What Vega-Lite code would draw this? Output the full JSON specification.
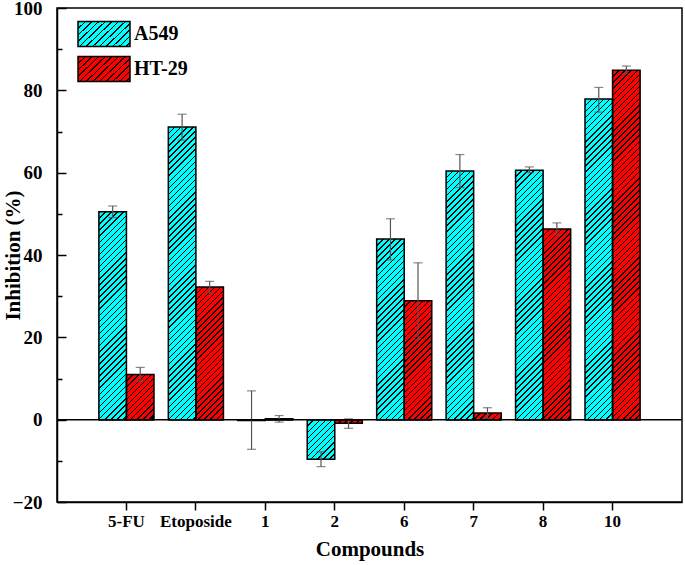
{
  "$schema": "https://vega.github.io/schema/vega-lite/v6.json",
  "width": 625,
  "height": 494,
  "autosize": {"type": "none"},
  "padding": {"left": 57, "top": 8, "right": 3, "bottom": 63},
  "background": "white",
  "params": [
    {
      "name": "hatchC",
      "value": [
        {"offset": 0, "color": "black"}, {"offset": 0.00390625, "color": "black"}, {"offset": 0.00390625, "color": "#00FFFF"}, {"offset": 0.015625, "color": "#00FFFF"},
        {"offset": 0.015625, "color": "black"}, {"offset": 0.01953125, "color": "black"}, {"offset": 0.01953125, "color": "#00FFFF"}, {"offset": 0.03125, "color": "#00FFFF"},
        {"offset": 0.03125, "color": "black"}, {"offset": 0.03515625, "color": "black"}, {"offset": 0.03515625, "color": "#00FFFF"}, {"offset": 0.046875, "color": "#00FFFF"},
        {"offset": 0.046875, "color": "black"}, {"offset": 0.05078125, "color": "black"}, {"offset": 0.05078125, "color": "#00FFFF"}, {"offset": 0.0625, "color": "#00FFFF"},
        {"offset": 0.0625, "color": "black"}, {"offset": 0.06640625, "color": "black"}, {"offset": 0.06640625, "color": "#00FFFF"}, {"offset": 0.078125, "color": "#00FFFF"},
        {"offset": 0.078125, "color": "black"}, {"offset": 0.08203125, "color": "black"}, {"offset": 0.08203125, "color": "#00FFFF"}, {"offset": 0.09375, "color": "#00FFFF"},
        {"offset": 0.09375, "color": "black"}, {"offset": 0.09765625, "color": "black"}, {"offset": 0.09765625, "color": "#00FFFF"}, {"offset": 0.109375, "color": "#00FFFF"},
        {"offset": 0.109375, "color": "black"}, {"offset": 0.11328125, "color": "black"}, {"offset": 0.11328125, "color": "#00FFFF"}, {"offset": 0.125, "color": "#00FFFF"},
        {"offset": 0.125, "color": "black"}, {"offset": 0.12890625, "color": "black"}, {"offset": 0.12890625, "color": "#00FFFF"}, {"offset": 0.140625, "color": "#00FFFF"},
        {"offset": 0.140625, "color": "black"}, {"offset": 0.14453125, "color": "black"}, {"offset": 0.14453125, "color": "#00FFFF"}, {"offset": 0.15625, "color": "#00FFFF"},
        {"offset": 0.15625, "color": "black"}, {"offset": 0.16015625, "color": "black"}, {"offset": 0.16015625, "color": "#00FFFF"}, {"offset": 0.171875, "color": "#00FFFF"},
        {"offset": 0.171875, "color": "black"}, {"offset": 0.17578125, "color": "black"}, {"offset": 0.17578125, "color": "#00FFFF"}, {"offset": 0.1875, "color": "#00FFFF"},
        {"offset": 0.1875, "color": "black"}, {"offset": 0.19140625, "color": "black"}, {"offset": 0.19140625, "color": "#00FFFF"}, {"offset": 0.203125, "color": "#00FFFF"},
        {"offset": 0.203125, "color": "black"}, {"offset": 0.20703125, "color": "black"}, {"offset": 0.20703125, "color": "#00FFFF"}, {"offset": 0.21875, "color": "#00FFFF"},
        {"offset": 0.21875, "color": "black"}, {"offset": 0.22265625, "color": "black"}, {"offset": 0.22265625, "color": "#00FFFF"}, {"offset": 0.234375, "color": "#00FFFF"},
        {"offset": 0.234375, "color": "black"}, {"offset": 0.23828125, "color": "black"}, {"offset": 0.23828125, "color": "#00FFFF"}, {"offset": 0.25, "color": "#00FFFF"},
        {"offset": 0.25, "color": "black"}, {"offset": 0.25390625, "color": "black"}, {"offset": 0.25390625, "color": "#00FFFF"}, {"offset": 0.265625, "color": "#00FFFF"},
        {"offset": 0.265625, "color": "black"}, {"offset": 0.26953125, "color": "black"}, {"offset": 0.26953125, "color": "#00FFFF"}, {"offset": 0.28125, "color": "#00FFFF"},
        {"offset": 0.28125, "color": "black"}, {"offset": 0.28515625, "color": "black"}, {"offset": 0.28515625, "color": "#00FFFF"}, {"offset": 0.296875, "color": "#00FFFF"},
        {"offset": 0.296875, "color": "black"}, {"offset": 0.30078125, "color": "black"}, {"offset": 0.30078125, "color": "#00FFFF"}, {"offset": 0.3125, "color": "#00FFFF"},
        {"offset": 0.3125, "color": "black"}, {"offset": 0.31640625, "color": "black"}, {"offset": 0.31640625, "color": "#00FFFF"}, {"offset": 0.328125, "color": "#00FFFF"},
        {"offset": 0.328125, "color": "black"}, {"offset": 0.33203125, "color": "black"}, {"offset": 0.33203125, "color": "#00FFFF"}, {"offset": 0.34375, "color": "#00FFFF"},
        {"offset": 0.34375, "color": "black"}, {"offset": 0.34765625, "color": "black"}, {"offset": 0.34765625, "color": "#00FFFF"}, {"offset": 0.359375, "color": "#00FFFF"},
        {"offset": 0.359375, "color": "black"}, {"offset": 0.36328125, "color": "black"}, {"offset": 0.36328125, "color": "#00FFFF"}, {"offset": 0.375, "color": "#00FFFF"},
        {"offset": 0.375, "color": "black"}, {"offset": 0.37890625, "color": "black"}, {"offset": 0.37890625, "color": "#00FFFF"}, {"offset": 0.390625, "color": "#00FFFF"},
        {"offset": 0.390625, "color": "black"}, {"offset": 0.39453125, "color": "black"}, {"offset": 0.39453125, "color": "#00FFFF"}, {"offset": 0.40625, "color": "#00FFFF"},
        {"offset": 0.40625, "color": "black"}, {"offset": 0.41015625, "color": "black"}, {"offset": 0.41015625, "color": "#00FFFF"}, {"offset": 0.421875, "color": "#00FFFF"},
        {"offset": 0.421875, "color": "black"}, {"offset": 0.42578125, "color": "black"}, {"offset": 0.42578125, "color": "#00FFFF"}, {"offset": 0.4375, "color": "#00FFFF"},
        {"offset": 0.4375, "color": "black"}, {"offset": 0.44140625, "color": "black"}, {"offset": 0.44140625, "color": "#00FFFF"}, {"offset": 0.453125, "color": "#00FFFF"},
        {"offset": 0.453125, "color": "black"}, {"offset": 0.45703125, "color": "black"}, {"offset": 0.45703125, "color": "#00FFFF"}, {"offset": 0.46875, "color": "#00FFFF"},
        {"offset": 0.46875, "color": "black"}, {"offset": 0.47265625, "color": "black"}, {"offset": 0.47265625, "color": "#00FFFF"}, {"offset": 0.484375, "color": "#00FFFF"},
        {"offset": 0.484375, "color": "black"}, {"offset": 0.48828125, "color": "black"}, {"offset": 0.48828125, "color": "#00FFFF"}, {"offset": 0.5, "color": "#00FFFF"},
        {"offset": 0.5, "color": "black"}, {"offset": 0.50390625, "color": "black"}, {"offset": 0.50390625, "color": "#00FFFF"}, {"offset": 0.515625, "color": "#00FFFF"},
        {"offset": 0.515625, "color": "black"}, {"offset": 0.51953125, "color": "black"}, {"offset": 0.51953125, "color": "#00FFFF"}, {"offset": 0.53125, "color": "#00FFFF"},
        {"offset": 0.53125, "color": "black"}, {"offset": 0.53515625, "color": "black"}, {"offset": 0.53515625, "color": "#00FFFF"}, {"offset": 0.546875, "color": "#00FFFF"},
        {"offset": 0.546875, "color": "black"}, {"offset": 0.55078125, "color": "black"}, {"offset": 0.55078125, "color": "#00FFFF"}, {"offset": 0.5625, "color": "#00FFFF"},
        {"offset": 0.5625, "color": "black"}, {"offset": 0.56640625, "color": "black"}, {"offset": 0.56640625, "color": "#00FFFF"}, {"offset": 0.578125, "color": "#00FFFF"},
        {"offset": 0.578125, "color": "black"}, {"offset": 0.58203125, "color": "black"}, {"offset": 0.58203125, "color": "#00FFFF"}, {"offset": 0.59375, "color": "#00FFFF"},
        {"offset": 0.59375, "color": "black"}, {"offset": 0.59765625, "color": "black"}, {"offset": 0.59765625, "color": "#00FFFF"}, {"offset": 0.609375, "color": "#00FFFF"},
        {"offset": 0.609375, "color": "black"}, {"offset": 0.61328125, "color": "black"}, {"offset": 0.61328125, "color": "#00FFFF"}, {"offset": 0.625, "color": "#00FFFF"},
        {"offset": 0.625, "color": "black"}, {"offset": 0.62890625, "color": "black"}, {"offset": 0.62890625, "color": "#00FFFF"}, {"offset": 0.640625, "color": "#00FFFF"},
        {"offset": 0.640625, "color": "black"}, {"offset": 0.64453125, "color": "black"}, {"offset": 0.64453125, "color": "#00FFFF"}, {"offset": 0.65625, "color": "#00FFFF"},
        {"offset": 0.65625, "color": "black"}, {"offset": 0.66015625, "color": "black"}, {"offset": 0.66015625, "color": "#00FFFF"}, {"offset": 0.671875, "color": "#00FFFF"},
        {"offset": 0.671875, "color": "black"}, {"offset": 0.67578125, "color": "black"}, {"offset": 0.67578125, "color": "#00FFFF"}, {"offset": 0.6875, "color": "#00FFFF"},
        {"offset": 0.6875, "color": "black"}, {"offset": 0.69140625, "color": "black"}, {"offset": 0.69140625, "color": "#00FFFF"}, {"offset": 0.703125, "color": "#00FFFF"},
        {"offset": 0.703125, "color": "black"}, {"offset": 0.70703125, "color": "black"}, {"offset": 0.70703125, "color": "#00FFFF"}, {"offset": 0.71875, "color": "#00FFFF"},
        {"offset": 0.71875, "color": "black"}, {"offset": 0.72265625, "color": "black"}, {"offset": 0.72265625, "color": "#00FFFF"}, {"offset": 0.734375, "color": "#00FFFF"},
        {"offset": 0.734375, "color": "black"}, {"offset": 0.73828125, "color": "black"}, {"offset": 0.73828125, "color": "#00FFFF"}, {"offset": 0.75, "color": "#00FFFF"},
        {"offset": 0.75, "color": "black"}, {"offset": 0.75390625, "color": "black"}, {"offset": 0.75390625, "color": "#00FFFF"}, {"offset": 0.765625, "color": "#00FFFF"},
        {"offset": 0.765625, "color": "black"}, {"offset": 0.76953125, "color": "black"}, {"offset": 0.76953125, "color": "#00FFFF"}, {"offset": 0.78125, "color": "#00FFFF"},
        {"offset": 0.78125, "color": "black"}, {"offset": 0.78515625, "color": "black"}, {"offset": 0.78515625, "color": "#00FFFF"}, {"offset": 0.796875, "color": "#00FFFF"},
        {"offset": 0.796875, "color": "black"}, {"offset": 0.80078125, "color": "black"}, {"offset": 0.80078125, "color": "#00FFFF"}, {"offset": 0.8125, "color": "#00FFFF"},
        {"offset": 0.8125, "color": "black"}, {"offset": 0.81640625, "color": "black"}, {"offset": 0.81640625, "color": "#00FFFF"}, {"offset": 0.828125, "color": "#00FFFF"},
        {"offset": 0.828125, "color": "black"}, {"offset": 0.83203125, "color": "black"}, {"offset": 0.83203125, "color": "#00FFFF"}, {"offset": 0.84375, "color": "#00FFFF"},
        {"offset": 0.84375, "color": "black"}, {"offset": 0.84765625, "color": "black"}, {"offset": 0.84765625, "color": "#00FFFF"}, {"offset": 0.859375, "color": "#00FFFF"},
        {"offset": 0.859375, "color": "black"}, {"offset": 0.86328125, "color": "black"}, {"offset": 0.86328125, "color": "#00FFFF"}, {"offset": 0.875, "color": "#00FFFF"},
        {"offset": 0.875, "color": "black"}, {"offset": 0.87890625, "color": "black"}, {"offset": 0.87890625, "color": "#00FFFF"}, {"offset": 0.890625, "color": "#00FFFF"},
        {"offset": 0.890625, "color": "black"}, {"offset": 0.89453125, "color": "black"}, {"offset": 0.89453125, "color": "#00FFFF"}, {"offset": 0.90625, "color": "#00FFFF"},
        {"offset": 0.90625, "color": "black"}, {"offset": 0.91015625, "color": "black"}, {"offset": 0.91015625, "color": "#00FFFF"}, {"offset": 0.921875, "color": "#00FFFF"},
        {"offset": 0.921875, "color": "black"}, {"offset": 0.92578125, "color": "black"}, {"offset": 0.92578125, "color": "#00FFFF"}, {"offset": 0.9375, "color": "#00FFFF"},
        {"offset": 0.9375, "color": "black"}, {"offset": 0.94140625, "color": "black"}, {"offset": 0.94140625, "color": "#00FFFF"}, {"offset": 0.953125, "color": "#00FFFF"},
        {"offset": 0.953125, "color": "black"}, {"offset": 0.95703125, "color": "black"}, {"offset": 0.95703125, "color": "#00FFFF"}, {"offset": 0.96875, "color": "#00FFFF"},
        {"offset": 0.96875, "color": "black"}, {"offset": 0.97265625, "color": "black"}, {"offset": 0.97265625, "color": "#00FFFF"}, {"offset": 0.984375, "color": "#00FFFF"},
        {"offset": 0.984375, "color": "black"}, {"offset": 0.98828125, "color": "black"}, {"offset": 0.98828125, "color": "#00FFFF"}, {"offset": 1, "color": "#00FFFF"}
      ]
    },
    {
      "name": "hatchR",
      "value": [
        {"offset": 0, "color": "black"}, {"offset": 0.00390625, "color": "black"}, {"offset": 0.00390625, "color": "#FF0000"}, {"offset": 0.015625, "color": "#FF0000"},
        {"offset": 0.015625, "color": "black"}, {"offset": 0.01953125, "color": "black"}, {"offset": 0.01953125, "color": "#FF0000"}, {"offset": 0.03125, "color": "#FF0000"},
        {"offset": 0.03125, "color": "black"}, {"offset": 0.03515625, "color": "black"}, {"offset": 0.03515625, "color": "#FF0000"}, {"offset": 0.046875, "color": "#FF0000"},
        {"offset": 0.046875, "color": "black"}, {"offset": 0.05078125, "color": "black"}, {"offset": 0.05078125, "color": "#FF0000"}, {"offset": 0.0625, "color": "#FF0000"},
        {"offset": 0.0625, "color": "black"}, {"offset": 0.06640625, "color": "black"}, {"offset": 0.06640625, "color": "#FF0000"}, {"offset": 0.078125, "color": "#FF0000"},
        {"offset": 0.078125, "color": "black"}, {"offset": 0.08203125, "color": "black"}, {"offset": 0.08203125, "color": "#FF0000"}, {"offset": 0.09375, "color": "#FF0000"},
        {"offset": 0.09375, "color": "black"}, {"offset": 0.09765625, "color": "black"}, {"offset": 0.09765625, "color": "#FF0000"}, {"offset": 0.109375, "color": "#FF0000"},
        {"offset": 0.109375, "color": "black"}, {"offset": 0.11328125, "color": "black"}, {"offset": 0.11328125, "color": "#FF0000"}, {"offset": 0.125, "color": "#FF0000"},
        {"offset": 0.125, "color": "black"}, {"offset": 0.12890625, "color": "black"}, {"offset": 0.12890625, "color": "#FF0000"}, {"offset": 0.140625, "color": "#FF0000"},
        {"offset": 0.140625, "color": "black"}, {"offset": 0.14453125, "color": "black"}, {"offset": 0.14453125, "color": "#FF0000"}, {"offset": 0.15625, "color": "#FF0000"},
        {"offset": 0.15625, "color": "black"}, {"offset": 0.16015625, "color": "black"}, {"offset": 0.16015625, "color": "#FF0000"}, {"offset": 0.171875, "color": "#FF0000"},
        {"offset": 0.171875, "color": "black"}, {"offset": 0.17578125, "color": "black"}, {"offset": 0.17578125, "color": "#FF0000"}, {"offset": 0.1875, "color": "#FF0000"},
        {"offset": 0.1875, "color": "black"}, {"offset": 0.19140625, "color": "black"}, {"offset": 0.19140625, "color": "#FF0000"}, {"offset": 0.203125, "color": "#FF0000"},
        {"offset": 0.203125, "color": "black"}, {"offset": 0.20703125, "color": "black"}, {"offset": 0.20703125, "color": "#FF0000"}, {"offset": 0.21875, "color": "#FF0000"},
        {"offset": 0.21875, "color": "black"}, {"offset": 0.22265625, "color": "black"}, {"offset": 0.22265625, "color": "#FF0000"}, {"offset": 0.234375, "color": "#FF0000"},
        {"offset": 0.234375, "color": "black"}, {"offset": 0.23828125, "color": "black"}, {"offset": 0.23828125, "color": "#FF0000"}, {"offset": 0.25, "color": "#FF0000"},
        {"offset": 0.25, "color": "black"}, {"offset": 0.25390625, "color": "black"}, {"offset": 0.25390625, "color": "#FF0000"}, {"offset": 0.265625, "color": "#FF0000"},
        {"offset": 0.265625, "color": "black"}, {"offset": 0.26953125, "color": "black"}, {"offset": 0.26953125, "color": "#FF0000"}, {"offset": 0.28125, "color": "#FF0000"},
        {"offset": 0.28125, "color": "black"}, {"offset": 0.28515625, "color": "black"}, {"offset": 0.28515625, "color": "#FF0000"}, {"offset": 0.296875, "color": "#FF0000"},
        {"offset": 0.296875, "color": "black"}, {"offset": 0.30078125, "color": "black"}, {"offset": 0.30078125, "color": "#FF0000"}, {"offset": 0.3125, "color": "#FF0000"},
        {"offset": 0.3125, "color": "black"}, {"offset": 0.31640625, "color": "black"}, {"offset": 0.31640625, "color": "#FF0000"}, {"offset": 0.328125, "color": "#FF0000"},
        {"offset": 0.328125, "color": "black"}, {"offset": 0.33203125, "color": "black"}, {"offset": 0.33203125, "color": "#FF0000"}, {"offset": 0.34375, "color": "#FF0000"},
        {"offset": 0.34375, "color": "black"}, {"offset": 0.34765625, "color": "black"}, {"offset": 0.34765625, "color": "#FF0000"}, {"offset": 0.359375, "color": "#FF0000"},
        {"offset": 0.359375, "color": "black"}, {"offset": 0.36328125, "color": "black"}, {"offset": 0.36328125, "color": "#FF0000"}, {"offset": 0.375, "color": "#FF0000"},
        {"offset": 0.375, "color": "black"}, {"offset": 0.37890625, "color": "black"}, {"offset": 0.37890625, "color": "#FF0000"}, {"offset": 0.390625, "color": "#FF0000"},
        {"offset": 0.390625, "color": "black"}, {"offset": 0.39453125, "color": "black"}, {"offset": 0.39453125, "color": "#FF0000"}, {"offset": 0.40625, "color": "#FF0000"},
        {"offset": 0.40625, "color": "black"}, {"offset": 0.41015625, "color": "black"}, {"offset": 0.41015625, "color": "#FF0000"}, {"offset": 0.421875, "color": "#FF0000"},
        {"offset": 0.421875, "color": "black"}, {"offset": 0.42578125, "color": "black"}, {"offset": 0.42578125, "color": "#FF0000"}, {"offset": 0.4375, "color": "#FF0000"},
        {"offset": 0.4375, "color": "black"}, {"offset": 0.44140625, "color": "black"}, {"offset": 0.44140625, "color": "#FF0000"}, {"offset": 0.453125, "color": "#FF0000"},
        {"offset": 0.453125, "color": "black"}, {"offset": 0.45703125, "color": "black"}, {"offset": 0.45703125, "color": "#FF0000"}, {"offset": 0.46875, "color": "#FF0000"},
        {"offset": 0.46875, "color": "black"}, {"offset": 0.47265625, "color": "black"}, {"offset": 0.47265625, "color": "#FF0000"}, {"offset": 0.484375, "color": "#FF0000"},
        {"offset": 0.484375, "color": "black"}, {"offset": 0.48828125, "color": "black"}, {"offset": 0.48828125, "color": "#FF0000"}, {"offset": 0.5, "color": "#FF0000"},
        {"offset": 0.5, "color": "black"}, {"offset": 0.50390625, "color": "black"}, {"offset": 0.50390625, "color": "#FF0000"}, {"offset": 0.515625, "color": "#FF0000"},
        {"offset": 0.515625, "color": "black"}, {"offset": 0.51953125, "color": "black"}, {"offset": 0.51953125, "color": "#FF0000"}, {"offset": 0.53125, "color": "#FF0000"},
        {"offset": 0.53125, "color": "black"}, {"offset": 0.53515625, "color": "black"}, {"offset": 0.53515625, "color": "#FF0000"}, {"offset": 0.546875, "color": "#FF0000"},
        {"offset": 0.546875, "color": "black"}, {"offset": 0.55078125, "color": "black"}, {"offset": 0.55078125, "color": "#FF0000"}, {"offset": 0.5625, "color": "#FF0000"},
        {"offset": 0.5625, "color": "black"}, {"offset": 0.56640625, "color": "black"}, {"offset": 0.56640625, "color": "#FF0000"}, {"offset": 0.578125, "color": "#FF0000"},
        {"offset": 0.578125, "color": "black"}, {"offset": 0.58203125, "color": "black"}, {"offset": 0.58203125, "color": "#FF0000"}, {"offset": 0.59375, "color": "#FF0000"},
        {"offset": 0.59375, "color": "black"}, {"offset": 0.59765625, "color": "black"}, {"offset": 0.59765625, "color": "#FF0000"}, {"offset": 0.609375, "color": "#FF0000"},
        {"offset": 0.609375, "color": "black"}, {"offset": 0.61328125, "color": "black"}, {"offset": 0.61328125, "color": "#FF0000"}, {"offset": 0.625, "color": "#FF0000"},
        {"offset": 0.625, "color": "black"}, {"offset": 0.62890625, "color": "black"}, {"offset": 0.62890625, "color": "#FF0000"}, {"offset": 0.640625, "color": "#FF0000"},
        {"offset": 0.640625, "color": "black"}, {"offset": 0.64453125, "color": "black"}, {"offset": 0.64453125, "color": "#FF0000"}, {"offset": 0.65625, "color": "#FF0000"},
        {"offset": 0.65625, "color": "black"}, {"offset": 0.66015625, "color": "black"}, {"offset": 0.66015625, "color": "#FF0000"}, {"offset": 0.671875, "color": "#FF0000"},
        {"offset": 0.671875, "color": "black"}, {"offset": 0.67578125, "color": "black"}, {"offset": 0.67578125, "color": "#FF0000"}, {"offset": 0.6875, "color": "#FF0000"},
        {"offset": 0.6875, "color": "black"}, {"offset": 0.69140625, "color": "black"}, {"offset": 0.69140625, "color": "#FF0000"}, {"offset": 0.703125, "color": "#FF0000"},
        {"offset": 0.703125, "color": "black"}, {"offset": 0.70703125, "color": "black"}, {"offset": 0.70703125, "color": "#FF0000"}, {"offset": 0.71875, "color": "#FF0000"},
        {"offset": 0.71875, "color": "black"}, {"offset": 0.72265625, "color": "black"}, {"offset": 0.72265625, "color": "#FF0000"}, {"offset": 0.734375, "color": "#FF0000"},
        {"offset": 0.734375, "color": "black"}, {"offset": 0.73828125, "color": "black"}, {"offset": 0.73828125, "color": "#FF0000"}, {"offset": 0.75, "color": "#FF0000"},
        {"offset": 0.75, "color": "black"}, {"offset": 0.75390625, "color": "black"}, {"offset": 0.75390625, "color": "#FF0000"}, {"offset": 0.765625, "color": "#FF0000"},
        {"offset": 0.765625, "color": "black"}, {"offset": 0.76953125, "color": "black"}, {"offset": 0.76953125, "color": "#FF0000"}, {"offset": 0.78125, "color": "#FF0000"},
        {"offset": 0.78125, "color": "black"}, {"offset": 0.78515625, "color": "black"}, {"offset": 0.78515625, "color": "#FF0000"}, {"offset": 0.796875, "color": "#FF0000"},
        {"offset": 0.796875, "color": "black"}, {"offset": 0.80078125, "color": "black"}, {"offset": 0.80078125, "color": "#FF0000"}, {"offset": 0.8125, "color": "#FF0000"},
        {"offset": 0.8125, "color": "black"}, {"offset": 0.81640625, "color": "black"}, {"offset": 0.81640625, "color": "#FF0000"}, {"offset": 0.828125, "color": "#FF0000"},
        {"offset": 0.828125, "color": "black"}, {"offset": 0.83203125, "color": "black"}, {"offset": 0.83203125, "color": "#FF0000"}, {"offset": 0.84375, "color": "#FF0000"},
        {"offset": 0.84375, "color": "black"}, {"offset": 0.84765625, "color": "black"}, {"offset": 0.84765625, "color": "#FF0000"}, {"offset": 0.859375, "color": "#FF0000"},
        {"offset": 0.859375, "color": "black"}, {"offset": 0.86328125, "color": "black"}, {"offset": 0.86328125, "color": "#FF0000"}, {"offset": 0.875, "color": "#FF0000"},
        {"offset": 0.875, "color": "black"}, {"offset": 0.87890625, "color": "black"}, {"offset": 0.87890625, "color": "#FF0000"}, {"offset": 0.890625, "color": "#FF0000"},
        {"offset": 0.890625, "color": "black"}, {"offset": 0.89453125, "color": "black"}, {"offset": 0.89453125, "color": "#FF0000"}, {"offset": 0.90625, "color": "#FF0000"},
        {"offset": 0.90625, "color": "black"}, {"offset": 0.91015625, "color": "black"}, {"offset": 0.91015625, "color": "#FF0000"}, {"offset": 0.921875, "color": "#FF0000"},
        {"offset": 0.921875, "color": "black"}, {"offset": 0.92578125, "color": "black"}, {"offset": 0.92578125, "color": "#FF0000"}, {"offset": 0.9375, "color": "#FF0000"},
        {"offset": 0.9375, "color": "black"}, {"offset": 0.94140625, "color": "black"}, {"offset": 0.94140625, "color": "#FF0000"}, {"offset": 0.953125, "color": "#FF0000"},
        {"offset": 0.953125, "color": "black"}, {"offset": 0.95703125, "color": "black"}, {"offset": 0.95703125, "color": "#FF0000"}, {"offset": 0.96875, "color": "#FF0000"},
        {"offset": 0.96875, "color": "black"}, {"offset": 0.97265625, "color": "black"}, {"offset": 0.97265625, "color": "#FF0000"}, {"offset": 0.984375, "color": "#FF0000"},
        {"offset": 0.984375, "color": "black"}, {"offset": 0.98828125, "color": "black"}, {"offset": 0.98828125, "color": "#FF0000"}, {"offset": 1, "color": "#FF0000"}
      ]
    },
    {
      "name": "hatchT",
      "value": [
        {"offset": 0, "color": "black"}, {"offset": 0.00390625, "color": "black"}, {"offset": 0.00390625, "color": "transparent"}, {"offset": 0.015625, "color": "transparent"},
        {"offset": 0.015625, "color": "black"}, {"offset": 0.01953125, "color": "black"}, {"offset": 0.01953125, "color": "transparent"}, {"offset": 0.03125, "color": "transparent"},
        {"offset": 0.03125, "color": "black"}, {"offset": 0.03515625, "color": "black"}, {"offset": 0.03515625, "color": "transparent"}, {"offset": 0.046875, "color": "transparent"},
        {"offset": 0.046875, "color": "black"}, {"offset": 0.05078125, "color": "black"}, {"offset": 0.05078125, "color": "transparent"}, {"offset": 0.0625, "color": "transparent"},
        {"offset": 0.0625, "color": "black"}, {"offset": 0.06640625, "color": "black"}, {"offset": 0.06640625, "color": "transparent"}, {"offset": 0.078125, "color": "transparent"},
        {"offset": 0.078125, "color": "black"}, {"offset": 0.08203125, "color": "black"}, {"offset": 0.08203125, "color": "transparent"}, {"offset": 0.09375, "color": "transparent"},
        {"offset": 0.09375, "color": "black"}, {"offset": 0.09765625, "color": "black"}, {"offset": 0.09765625, "color": "transparent"}, {"offset": 0.109375, "color": "transparent"},
        {"offset": 0.109375, "color": "black"}, {"offset": 0.11328125, "color": "black"}, {"offset": 0.11328125, "color": "transparent"}, {"offset": 0.125, "color": "transparent"},
        {"offset": 0.125, "color": "black"}, {"offset": 0.12890625, "color": "black"}, {"offset": 0.12890625, "color": "transparent"}, {"offset": 0.140625, "color": "transparent"},
        {"offset": 0.140625, "color": "black"}, {"offset": 0.14453125, "color": "black"}, {"offset": 0.14453125, "color": "transparent"}, {"offset": 0.15625, "color": "transparent"},
        {"offset": 0.15625, "color": "black"}, {"offset": 0.16015625, "color": "black"}, {"offset": 0.16015625, "color": "transparent"}, {"offset": 0.171875, "color": "transparent"},
        {"offset": 0.171875, "color": "black"}, {"offset": 0.17578125, "color": "black"}, {"offset": 0.17578125, "color": "transparent"}, {"offset": 0.1875, "color": "transparent"},
        {"offset": 0.1875, "color": "black"}, {"offset": 0.19140625, "color": "black"}, {"offset": 0.19140625, "color": "transparent"}, {"offset": 0.203125, "color": "transparent"},
        {"offset": 0.203125, "color": "black"}, {"offset": 0.20703125, "color": "black"}, {"offset": 0.20703125, "color": "transparent"}, {"offset": 0.21875, "color": "transparent"},
        {"offset": 0.21875, "color": "black"}, {"offset": 0.22265625, "color": "black"}, {"offset": 0.22265625, "color": "transparent"}, {"offset": 0.234375, "color": "transparent"},
        {"offset": 0.234375, "color": "black"}, {"offset": 0.23828125, "color": "black"}, {"offset": 0.23828125, "color": "transparent"}, {"offset": 0.25, "color": "transparent"},
        {"offset": 0.25, "color": "black"}, {"offset": 0.25390625, "color": "black"}, {"offset": 0.25390625, "color": "transparent"}, {"offset": 0.265625, "color": "transparent"},
        {"offset": 0.265625, "color": "black"}, {"offset": 0.26953125, "color": "black"}, {"offset": 0.26953125, "color": "transparent"}, {"offset": 0.28125, "color": "transparent"},
        {"offset": 0.28125, "color": "black"}, {"offset": 0.28515625, "color": "black"}, {"offset": 0.28515625, "color": "transparent"}, {"offset": 0.296875, "color": "transparent"},
        {"offset": 0.296875, "color": "black"}, {"offset": 0.30078125, "color": "black"}, {"offset": 0.30078125, "color": "transparent"}, {"offset": 0.3125, "color": "transparent"},
        {"offset": 0.3125, "color": "black"}, {"offset": 0.31640625, "color": "black"}, {"offset": 0.31640625, "color": "transparent"}, {"offset": 0.328125, "color": "transparent"},
        {"offset": 0.328125, "color": "black"}, {"offset": 0.33203125, "color": "black"}, {"offset": 0.33203125, "color": "transparent"}, {"offset": 0.34375, "color": "transparent"},
        {"offset": 0.34375, "color": "black"}, {"offset": 0.34765625, "color": "black"}, {"offset": 0.34765625, "color": "transparent"}, {"offset": 0.359375, "color": "transparent"},
        {"offset": 0.359375, "color": "black"}, {"offset": 0.36328125, "color": "black"}, {"offset": 0.36328125, "color": "transparent"}, {"offset": 0.375, "color": "transparent"},
        {"offset": 0.375, "color": "black"}, {"offset": 0.37890625, "color": "black"}, {"offset": 0.37890625, "color": "transparent"}, {"offset": 0.390625, "color": "transparent"},
        {"offset": 0.390625, "color": "black"}, {"offset": 0.39453125, "color": "black"}, {"offset": 0.39453125, "color": "transparent"}, {"offset": 0.40625, "color": "transparent"},
        {"offset": 0.40625, "color": "black"}, {"offset": 0.41015625, "color": "black"}, {"offset": 0.41015625, "color": "transparent"}, {"offset": 0.421875, "color": "transparent"},
        {"offset": 0.421875, "color": "black"}, {"offset": 0.42578125, "color": "black"}, {"offset": 0.42578125, "color": "transparent"}, {"offset": 0.4375, "color": "transparent"},
        {"offset": 0.4375, "color": "black"}, {"offset": 0.44140625, "color": "black"}, {"offset": 0.44140625, "color": "transparent"}, {"offset": 0.453125, "color": "transparent"},
        {"offset": 0.453125, "color": "black"}, {"offset": 0.45703125, "color": "black"}, {"offset": 0.45703125, "color": "transparent"}, {"offset": 0.46875, "color": "transparent"},
        {"offset": 0.46875, "color": "black"}, {"offset": 0.47265625, "color": "black"}, {"offset": 0.47265625, "color": "transparent"}, {"offset": 0.484375, "color": "transparent"},
        {"offset": 0.484375, "color": "black"}, {"offset": 0.48828125, "color": "black"}, {"offset": 0.48828125, "color": "transparent"}, {"offset": 1, "color": "transparent"}
      ]
    },
    {
      "name": "legA",
      "value": {
        "gradient": "linear", "x1": 0, "y1": 0, "x2": 1.227, "y2": 0.614,
        "stops": [
          {"offset": 0, "color": "black"}, {"offset": 0.02, "color": "black"}, {"offset": 0.02, "color": "#00FFFF"}, {"offset": 0.0833, "color": "#00FFFF"},
          {"offset": 0.0833, "color": "black"}, {"offset": 0.1033, "color": "black"}, {"offset": 0.1033, "color": "#00FFFF"}, {"offset": 0.1667, "color": "#00FFFF"},
          {"offset": 0.1667, "color": "black"}, {"offset": 0.1867, "color": "black"}, {"offset": 0.1867, "color": "#00FFFF"}, {"offset": 0.25, "color": "#00FFFF"},
          {"offset": 0.25, "color": "black"}, {"offset": 0.27, "color": "black"}, {"offset": 0.27, "color": "#00FFFF"}, {"offset": 0.3333, "color": "#00FFFF"},
          {"offset": 0.3333, "color": "black"}, {"offset": 0.3533, "color": "black"}, {"offset": 0.3533, "color": "#00FFFF"}, {"offset": 0.4167, "color": "#00FFFF"},
          {"offset": 0.4167, "color": "black"}, {"offset": 0.4367, "color": "black"}, {"offset": 0.4367, "color": "#00FFFF"}, {"offset": 0.5, "color": "#00FFFF"},
          {"offset": 0.5, "color": "black"}, {"offset": 0.52, "color": "black"}, {"offset": 0.52, "color": "#00FFFF"}, {"offset": 0.5833, "color": "#00FFFF"},
          {"offset": 0.5833, "color": "black"}, {"offset": 0.6033, "color": "black"}, {"offset": 0.6033, "color": "#00FFFF"}, {"offset": 0.6667, "color": "#00FFFF"},
          {"offset": 0.6667, "color": "black"}, {"offset": 0.6867, "color": "black"}, {"offset": 0.6867, "color": "#00FFFF"}, {"offset": 0.75, "color": "#00FFFF"},
          {"offset": 0.75, "color": "black"}, {"offset": 0.77, "color": "black"}, {"offset": 0.77, "color": "#00FFFF"}, {"offset": 0.8333, "color": "#00FFFF"},
          {"offset": 0.8333, "color": "black"}, {"offset": 0.8533, "color": "black"}, {"offset": 0.8533, "color": "#00FFFF"}, {"offset": 0.9167, "color": "#00FFFF"},
          {"offset": 0.9167, "color": "black"}, {"offset": 0.9367, "color": "black"}, {"offset": 0.9367, "color": "#00FFFF"}, {"offset": 1, "color": "#00FFFF"}
        ]
      }
    },
    {
      "name": "legR",
      "value": {
        "gradient": "linear", "x1": 0, "y1": 0, "x2": 1.227, "y2": 0.614,
        "stops": [
          {"offset": 0, "color": "black"}, {"offset": 0.02, "color": "black"}, {"offset": 0.02, "color": "#FF0000"}, {"offset": 0.0833, "color": "#FF0000"},
          {"offset": 0.0833, "color": "black"}, {"offset": 0.1033, "color": "black"}, {"offset": 0.1033, "color": "#FF0000"}, {"offset": 0.1667, "color": "#FF0000"},
          {"offset": 0.1667, "color": "black"}, {"offset": 0.1867, "color": "black"}, {"offset": 0.1867, "color": "#FF0000"}, {"offset": 0.25, "color": "#FF0000"},
          {"offset": 0.25, "color": "black"}, {"offset": 0.27, "color": "black"}, {"offset": 0.27, "color": "#FF0000"}, {"offset": 0.3333, "color": "#FF0000"},
          {"offset": 0.3333, "color": "black"}, {"offset": 0.3533, "color": "black"}, {"offset": 0.3533, "color": "#FF0000"}, {"offset": 0.4167, "color": "#FF0000"},
          {"offset": 0.4167, "color": "black"}, {"offset": 0.4367, "color": "black"}, {"offset": 0.4367, "color": "#FF0000"}, {"offset": 0.5, "color": "#FF0000"},
          {"offset": 0.5, "color": "black"}, {"offset": 0.52, "color": "black"}, {"offset": 0.52, "color": "#FF0000"}, {"offset": 0.5833, "color": "#FF0000"},
          {"offset": 0.5833, "color": "black"}, {"offset": 0.6033, "color": "black"}, {"offset": 0.6033, "color": "#FF0000"}, {"offset": 0.6667, "color": "#FF0000"},
          {"offset": 0.6667, "color": "black"}, {"offset": 0.6867, "color": "black"}, {"offset": 0.6867, "color": "#FF0000"}, {"offset": 0.75, "color": "#FF0000"},
          {"offset": 0.75, "color": "black"}, {"offset": 0.77, "color": "black"}, {"offset": 0.77, "color": "#FF0000"}, {"offset": 0.8333, "color": "#FF0000"},
          {"offset": 0.8333, "color": "black"}, {"offset": 0.8533, "color": "black"}, {"offset": 0.8533, "color": "#FF0000"}, {"offset": 0.9167, "color": "#FF0000"},
          {"offset": 0.9167, "color": "black"}, {"offset": 0.9367, "color": "black"}, {"offset": 0.9367, "color": "#FF0000"}, {"offset": 1, "color": "#FF0000"}
        ]
      }
    }
  ],
  "data": {
    "values": [
      {"compound": "5-FU", "series": "A549", "value": 50.5, "lo": 49.1, "hi": 51.9},
      {"compound": "5-FU", "series": "HT-29", "value": 11.0, "lo": 9.3, "hi": 12.7},
      {"compound": "Etoposide", "series": "A549", "value": 71.1, "lo": 67.9, "hi": 74.2},
      {"compound": "Etoposide", "series": "HT-29", "value": 32.2, "lo": 30.8, "hi": 33.6},
      {"compound": "1", "series": "A549", "value": -0.2, "lo": -7.2, "hi": 7.0},
      {"compound": "1", "series": "HT-29", "value": 0.2, "lo": -0.6, "hi": 1.0},
      {"compound": "2", "series": "A549", "value": -9.6, "lo": -11.4, "hi": -7.8},
      {"compound": "2", "series": "HT-29", "value": -0.9, "lo": -2.1, "hi": 0.2},
      {"compound": "6", "series": "A549", "value": 43.9, "lo": 38.8, "hi": 48.8},
      {"compound": "6", "series": "HT-29", "value": 28.9, "lo": 19.5, "hi": 38.1},
      {"compound": "7", "series": "A549", "value": 60.4, "lo": 56.4, "hi": 64.4},
      {"compound": "7", "series": "HT-29", "value": 1.6, "lo": 0.3, "hi": 2.9},
      {"compound": "8", "series": "A549", "value": 60.6, "lo": 60.0, "hi": 61.4},
      {"compound": "8", "series": "HT-29", "value": 46.3, "lo": 44.9, "hi": 47.8},
      {"compound": "10", "series": "A549", "value": 77.9, "lo": 74.7, "hi": 80.7},
      {"compound": "10", "series": "HT-29", "value": 84.9, "lo": 84.0, "hi": 85.9}
    ]
  },
  "layer": [
    {
      "mark": {"type": "bar", "strokeWidth": 0, "fill": {"expr": "datum.series == 'A549' ? '#00FFFF' : '#FF0000'"}},
      "encoding": {
        "x": {
          "field": "compound",
          "type": "nominal",
          "sort": ["5-FU", "Etoposide", "1", "2", "6", "7", "8", "10"],
          "scale": {"paddingInner": 0, "paddingOuter": 0.5},
          "axis": {
            "title": "Compounds",
            "labelAngle": 0,
            "labelFont": "Liberation Serif",
            "labelFontWeight": "bold",
            "labelFontSize": 17,
            "labelColor": "black",
            "labelPadding": 3,
            "titleFont": "Liberation Serif",
            "titleFontWeight": "bold",
            "titleFontSize": 21,
            "titleColor": "black",
            "titlePadding": 9,
            "tickSize": 8,
            "tickColor": "black",
            "tickWidth": 1.5,
            "domainColor": "black",
            "domainWidth": 1.5
          }
        },
        "xOffset": {
          "field": "series",
          "type": "nominal",
          "sort": ["A549", "HT-29"],
          "scale": {"paddingInner": 0, "paddingOuter": 0.26}
        },
        "y": {
          "field": "value",
          "type": "quantitative",
          "stack": null,
          "scale": {"domain": [-20, 100], "nice": false, "zero": false},
          "axis": {
            "title": "Inhibition (%)",
            "values": [-20, -10, 0, 10, 20, 30, 40, 50, 60, 70, 80, 90, 100],
            "labelExpr": "datum.value % 20 == 0 ? datum.label : ''",
            "grid": false,
            "tickSize": {"condition": {"test": "datum.value % 20 != 0", "value": -5}, "value": -9},
            "tickColor": "black",
            "tickWidth": 1.5,
            "domainColor": "black",
            "domainWidth": 1.5,
            "labelFont": "Liberation Serif",
            "labelFontWeight": "bold",
            "labelFontSize": 19,
            "labelColor": "black",
            "labelPadding": 24,
            "titleFont": "Liberation Serif",
            "titleFontWeight": "bold",
            "titleFontSize": 21,
            "titleColor": "black",
            "titleX": -34,
            "titleY": 247
          }
        }
      }
    },
    {
      "mark": {
        "type": "bar",
        "strokeWidth": 0,
        "fill": {"expr": "{gradient: 'linear', x1: 0, y1: 0, x2: 389.2 * bandwidth('xOffset') / (pow(bandwidth('xOffset'), 2) + pow(scale('y', datum.value) - scale('y', 0), 2) + 0.01), y2: 389.2 * abs(scale('y', datum.value) - scale('y', 0)) / (pow(bandwidth('xOffset'), 2) + pow(scale('y', datum.value) - scale('y', 0), 2) + 0.01), stops: datum.series == 'A549' ? hatchC : hatchR}"}
      },
      "encoding": {
        "x": {"field": "compound", "type": "nominal", "sort": ["5-FU", "Etoposide", "1", "2", "6", "7", "8", "10"]},
        "xOffset": {"field": "series", "type": "nominal", "sort": ["A549", "HT-29"]},
        "y": {"field": "value", "type": "quantitative", "stack": null}
      }
    },
    {
      "mark": {
        "type": "bar",
        "stroke": "black",
        "strokeWidth": 1.5,
        "fill": {"expr": "{gradient: 'linear', x1: 1, y1: (6.081 * floor((bandwidth('xOffset') + abs(scale('y', datum.value) - scale('y', 0))) / 6.081) + 1.52 - bandwidth('xOffset')) / (abs(scale('y', datum.value) - scale('y', 0)) + 0.01), x2: 1 - 389.2 * bandwidth('xOffset') / (pow(bandwidth('xOffset'), 2) + pow(scale('y', datum.value) - scale('y', 0), 2) + 0.01), y2: (6.081 * floor((bandwidth('xOffset') + abs(scale('y', datum.value) - scale('y', 0))) / 6.081) + 1.52 - bandwidth('xOffset')) / (abs(scale('y', datum.value) - scale('y', 0)) + 0.01) - 389.2 * abs(scale('y', datum.value) - scale('y', 0)) / (pow(bandwidth('xOffset'), 2) + pow(scale('y', datum.value) - scale('y', 0), 2) + 0.01), stops: hatchT}"}
      },
      "encoding": {
        "x": {"field": "compound", "type": "nominal", "sort": ["5-FU", "Etoposide", "1", "2", "6", "7", "8", "10"]},
        "xOffset": {"field": "series", "type": "nominal", "sort": ["A549", "HT-29"]},
        "y": {"field": "value", "type": "quantitative", "stack": null}
      }
    },
    {
      "mark": {"type": "bar", "stroke": "black", "strokeWidth": 1.5},
      "encoding": {
        "x": {"field": "compound", "type": "nominal", "sort": ["5-FU", "Etoposide", "1", "2", "6", "7", "8", "10"]},
        "xOffset": {"field": "series", "type": "nominal", "sort": ["A549", "HT-29"]},
        "y": {"datum": 0},
        "y2": {"datum": 0},
        "fill": {
          "field": "series",
          "type": "nominal",
          "scale": {"domain": ["A549", "HT-29"], "range": [{"expr": "legA"}, {"expr": "legR"}]},
          "legend": {
            "title": null,
            "orient": "none",
            "legendX": 33,
            "legendY": 12,
            "padding": 0,
            "symbolType": "M-2,-0.96H2V0.96H-2Z",
            "symbolSize": 676,
            "symbolStrokeColor": "black",
            "symbolStrokeWidth": 1.5,
            "symbolOpacity": 1,
            "labelFont": "Liberation Serif",
            "labelFontWeight": "bold",
            "labelFontSize": 20,
            "labelColor": "black",
            "labelOffset": 16,
            "rowPadding": 3
          }
        }
      }
    },
    {
      "mark": {"type": "rule", "color": "#555555", "strokeWidth": 1.2},
      "encoding": {
        "x": {"field": "compound", "type": "nominal", "sort": ["5-FU", "Etoposide", "1", "2", "6", "7", "8", "10"]},
        "xOffset": {"field": "series", "type": "nominal", "sort": ["A549", "HT-29"]},
        "y": {"field": "lo", "type": "quantitative"},
        "y2": {"field": "hi"}
      }
    },
    {
      "mark": {"type": "tick", "color": "#555555", "thickness": 1.2, "size": 9},
      "encoding": {
        "x": {"field": "compound", "type": "nominal", "sort": ["5-FU", "Etoposide", "1", "2", "6", "7", "8", "10"]},
        "xOffset": {"field": "series", "type": "nominal", "sort": ["A549", "HT-29"]},
        "y": {"field": "lo", "type": "quantitative"}
      }
    },
    {
      "mark": {"type": "tick", "color": "#555555", "thickness": 1.2, "size": 9},
      "encoding": {
        "x": {"field": "compound", "type": "nominal", "sort": ["5-FU", "Etoposide", "1", "2", "6", "7", "8", "10"]},
        "xOffset": {"field": "series", "type": "nominal", "sort": ["A549", "HT-29"]},
        "y": {"field": "hi", "type": "quantitative"}
      }
    },
    {
      "data": {"values": [{"v": 0}]},
      "mark": {"type": "rule", "color": "black", "strokeWidth": 1.5},
      "encoding": {"y": {"field": "v", "type": "quantitative"}}
    }
  ],
  "config": {
    "view": {"stroke": "black", "strokeWidth": 1.5},
    "font": "Liberation Serif"
  }
}
